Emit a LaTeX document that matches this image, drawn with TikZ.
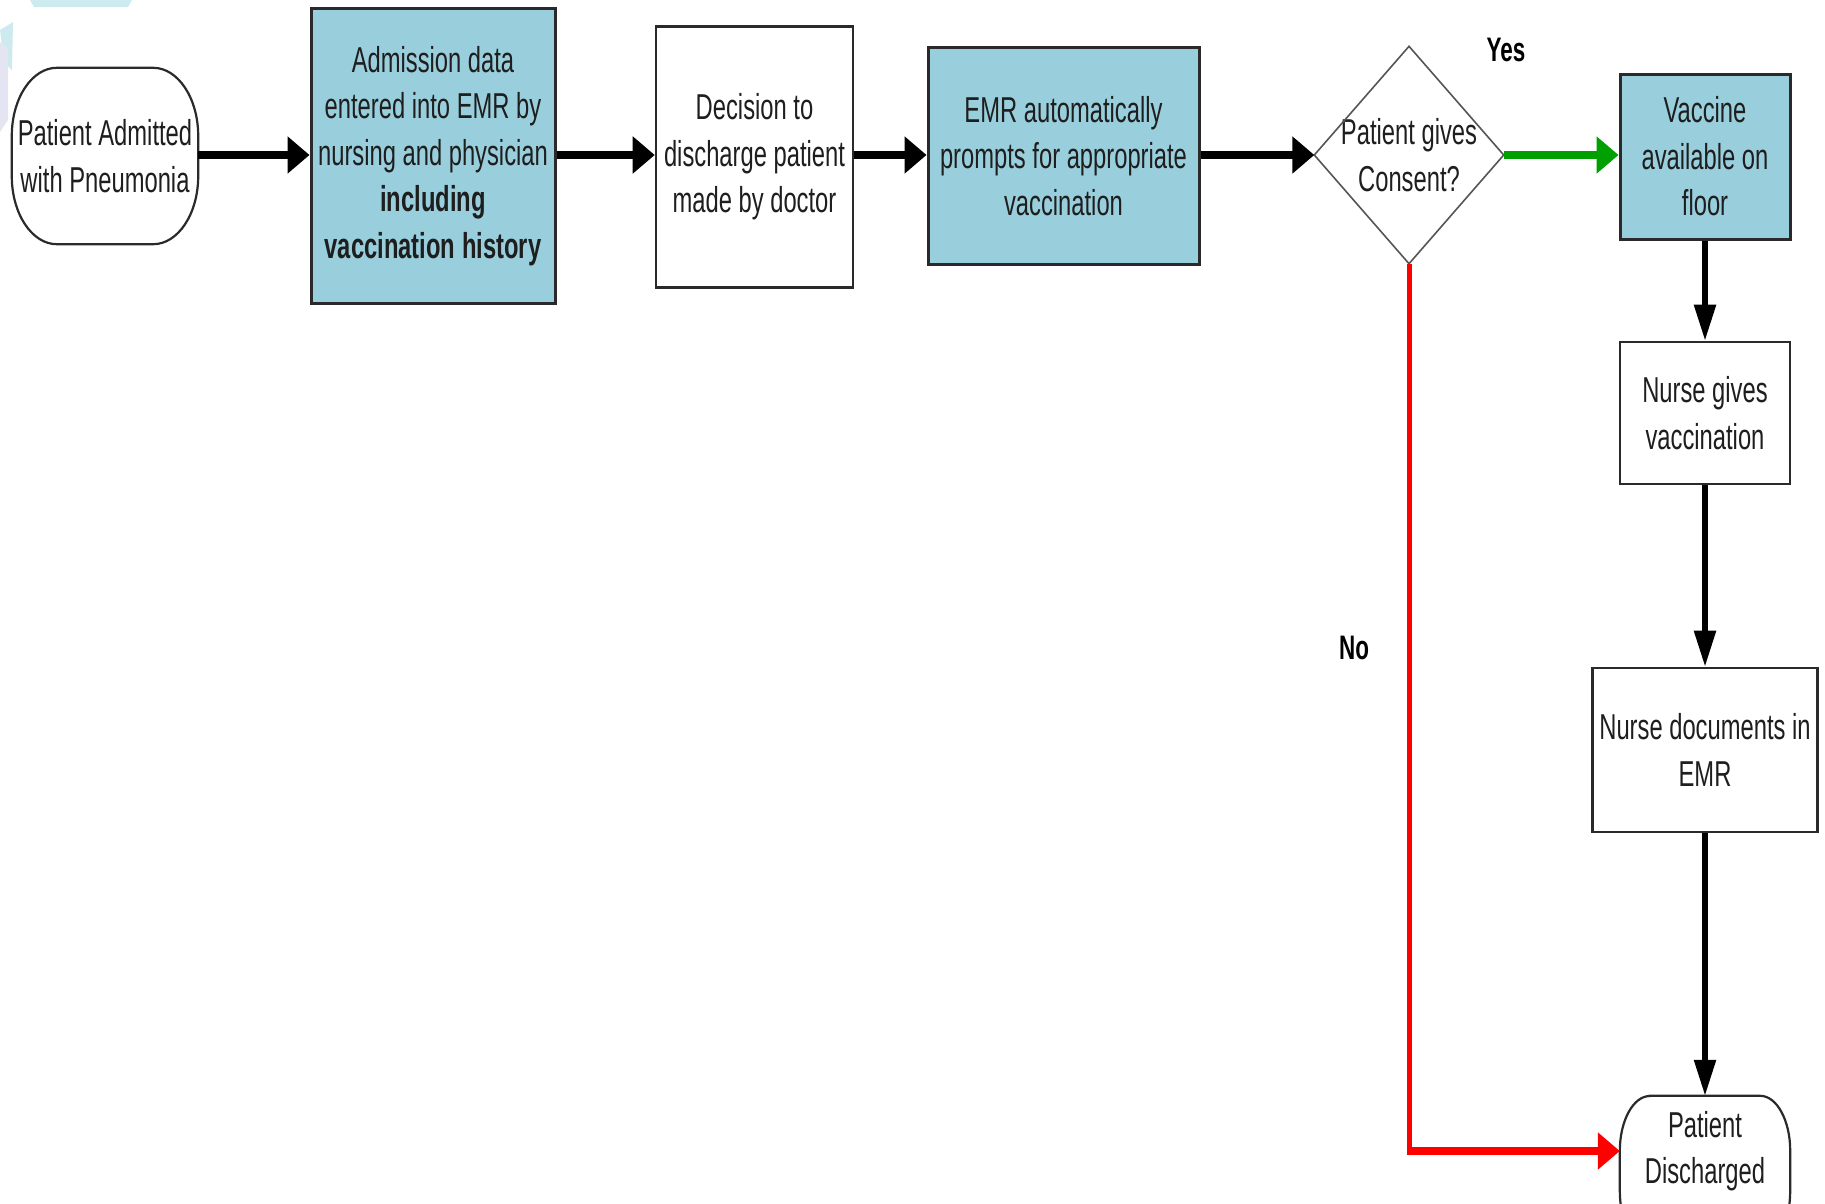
\documentclass[tikz,border=0pt]{standalone}
\usepackage{fontspec}
\setmainfont{Liberation Sans}[FakeStretch=0.66]
\usetikzlibrary{arrows.meta}
\definecolor{boxblue}{HTML}{99CFDD}
\definecolor{txt}{HTML}{1E1E1E}
\definecolor{boxline}{HTML}{2A2A2A}
\definecolor{okgreen}{HTML}{00A000}
\definecolor{nored}{HTML}{FF0000}
\definecolor{wmcyan}{HTML}{CDEAEF}
\definecolor{wmlav}{HTML}{E4E4F3}
\tikzset{
  every node/.style={text=txt, font=\fontsize{36}{46.5}\selectfont},
  stepbox/.style={draw=boxline, line width=3pt, inner sep=2pt, align=center},
  bluebox/.style={stepbox, fill=boxblue},
  whitebox/.style={stepbox, fill=white, line width=2.6pt},
  termnode/.style={inner sep=2pt, align=center},
  termline/.style={draw=boxline, line width=2.2pt},
  decline/.style={draw=boxline!80, line width=1.6pt},
  hconn/.style={line width=8pt, draw=black, -{Triangle[length=22pt,width=36pt]}},
  vconn/.style={line width=5.5pt, draw=black, -{Triangle[length=36pt,width=21pt]}},
  yesconn/.style={hconn, draw=okgreen, -{Triangle[length=22pt,width=36pt,fill=okgreen]}},
  noconn/.style={hconn, draw=nored, -{Triangle[length=22pt,width=36pt,fill=nored]}},
  noline/.style={line width=5pt, draw=nored},
  lbl/.style={font=\fontsize{34}{40}\selectfont\bfseries, text=black}
}
\begin{document}
\begin{tikzpicture}[x=1pt, y=-1pt]
\useasboundingbox (0,0) rectangle (1825,1203);
% faint background fragments
\fill[wmcyan] (30,0) -- (132,0) -- (128,7) -- (34,7) -- cycle;
\fill[wmcyan] (0,30) -- (13,22) -- (12,70) -- (4,62) -- cycle;
\fill[wmlav] (0,42) -- (8,48) -- (8,120) -- (0,132) -- cycle;

% nodes
\node[termnode, minimum width=186, minimum height=176] (start) at (105,156)
  {Patient Admitted\\with Pneumonia};
\draw[termline] ([xshift=45pt]start.north west) -- ([xshift=-45pt]start.north east)
  arc[start angle=90, end angle=0, x radius=45pt, y radius=68pt]
  -- ([yshift=68pt]start.south east)
  arc[start angle=0, end angle=-90, x radius=45pt, y radius=68pt]
  -- ([xshift=45pt]start.south west)
  arc[start angle=270, end angle=180, x radius=45pt, y radius=68pt]
  -- ([yshift=-68pt]start.north west)
  arc[start angle=180, end angle=90, x radius=45pt, y radius=68pt]
  -- cycle;

\node[bluebox, minimum width=244, minimum height=295] (admit) at (433,156)
  {Admission data\\entered into EMR by\\nursing and physician\\\textbf{including}\\\textbf{vaccination history}};
\node[whitebox, minimum width=197, minimum height=261] (decide) at (754.5,157)
  {Decision to\\discharge patient\\made by doctor};
\node[bluebox, minimum width=271, minimum height=217] (prompt) at (1063.5,156)
  {EMR automatically\\prompts for appropriate\\vaccination};
\node[termnode, minimum width=189, minimum height=217] (consent) at (1409,155)
  {Patient gives\\Consent?};
\draw[decline] (consent.north) -- (consent.east) -- (consent.south) -- (consent.west) -- cycle;

\node[bluebox, minimum width=170, minimum height=165] (avail) at (1705,156.5)
  {Vaccine\\available on\\floor};
\node[whitebox, minimum width=170, minimum height=142] (gives) at (1705,413)
  {Nurse gives\\vaccination};
\node[whitebox, minimum width=225, minimum height=164] (docs) at (1705,750)
  {Nurse documents in\\EMR};

\node[termnode, minimum width=170, minimum height=110] (end) at (1705,1151)
  {Patient\\Discharged};
\draw[termline] ([xshift=30pt]end.north west) -- ([xshift=-30pt]end.north east)
  arc[start angle=90, end angle=0, x radius=30pt, y radius=55pt]
  -- ([yshift=15pt]end.south east)
  arc[start angle=0, end angle=-90, x radius=30pt, y radius=55pt]
  -- ([xshift=30pt, yshift=-40pt]end.south west)
  arc[start angle=270, end angle=180, x radius=30pt, y radius=55pt]
  -- (end.west)
  arc[start angle=180, end angle=90, x radius=30pt, y radius=55pt]
  -- cycle;

\node[lbl] (yes) at (1506,50) {Yes};
\node[lbl] (no) at (1354,648) {No};

% connectors
\draw[hconn] (start.east |- consent.west) -- (admit.west |- consent.west);
\draw[hconn] (admit.east |- consent.west) -- (decide.west |- consent.west);
\draw[hconn] (decide.east |- consent.west) -- (prompt.west |- consent.west);
\draw[hconn] (prompt.east |- consent.west) -- (consent.west);
\draw[yesconn] (consent.east) -- (avail.west |- consent.east);
\draw[vconn] (avail.south) -- (gives.north);
\draw[vconn] (gives.south) -- (docs.north);
\draw[vconn] (docs.south) -- (end.north);
\coordinate (nocorner) at (consent.south |- end.west);
\draw[noline] (consent.south) -- ([yshift=-4pt]nocorner);
\draw[noconn] ([xshift=-2.5pt]nocorner) -- (end.west);
\end{tikzpicture}
\end{document}
